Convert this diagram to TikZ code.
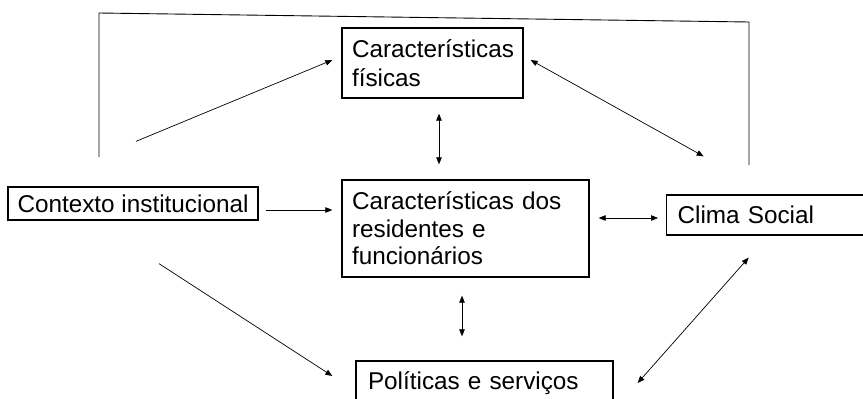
\documentclass[tikz,border=0pt]{standalone}
\usepackage{fontspec}
\setmainfont{Liberation Sans}
\usetikzlibrary{arrows.meta,calc}
\begin{document}
\begin{tikzpicture}[x=1pt,y=-1pt,
  box/.style={draw, line width=1.3pt, font=\fontsize{24.3}{27.5}\selectfont, align=left, inner ysep=0pt},
  conn/.style={line width=0.7pt, -{Triangle[length=7pt,width=5.5pt]}},
  dconn/.style={line width=0.7pt, {Triangle[length=7pt,width=5.5pt]}-{Triangle[length=7pt,width=5.5pt]}}]
\useasboundingbox (0,0) rectangle (863,399);
\clip (0,0) rectangle (863,399);
\node[box, font=\fontsize{24.3}{29}\selectfont, minimum width=181pt, minimum height=70pt, text width=161pt, inner xsep=10pt] (fis) at (432.5,63) {Características\\físicas};
\node[box, minimum width=247pt, minimum height=97pt, text width=227pt, inner xsep=10pt] (mid) at (465.5,228.5) {Características dos\\residentes e\\funcionários};
\node[box, minimum width=250pt, minimum height=33pt, align=center, inner xsep=2pt] (ctx) at (133,203.5) {Contexto institucional};
\node[box, anchor=west, minimum width=200pt, minimum height=40pt, text width=178pt, inner xsep=11pt] (clima) at (666,215) {Clima Social};
\node[box, minimum width=257pt, minimum height=44pt, text width=233pt, inner xsep=12pt] (pol) at (484.5,383) {Políticas e serviços};
% frame
\coordinate (f1) at (99,157);
\coordinate (f2) at (99,13);
\coordinate (f3) at (749,22);
\coordinate (f4) at (749,165);
\draw[line width=0.9pt] (f1) -- (f2) -- (f3) -- (f4);
% connectors
\draw[conn] ($(ctx.north)+(3,-45)$) -- ($(fis.west)+(-9,-3)$);
\draw[dconn] ($(fis.south)+(6.5,15)$) -- ($(mid.north)+(-26.5,-15)$);
\draw[dconn] ($(fis.east)+(7,-3)$) -- ($(clima.north)+(-63,-38)$);
\draw[conn] ($(ctx.east)+(7,6.5)$) -- ($(mid.west)+(-9,-18.5)$);
\draw[dconn] ($(mid.east)+(9,-10.5)$) -- ($(clima.west)+(-8,3)$);
\draw[dconn] ($(mid.south)+(-3.5,18)$) -- ($(pol.north)+(-22.5,-24)$);
\draw[conn] ($(ctx.south)+(26,43)$) -- ($(pol.west)+(-23,-7)$);
\draw[dconn] ($(pol.east)+(24,0)$) -- ($(clima.south)+(-18,22)$);
\end{tikzpicture}
\end{document}
